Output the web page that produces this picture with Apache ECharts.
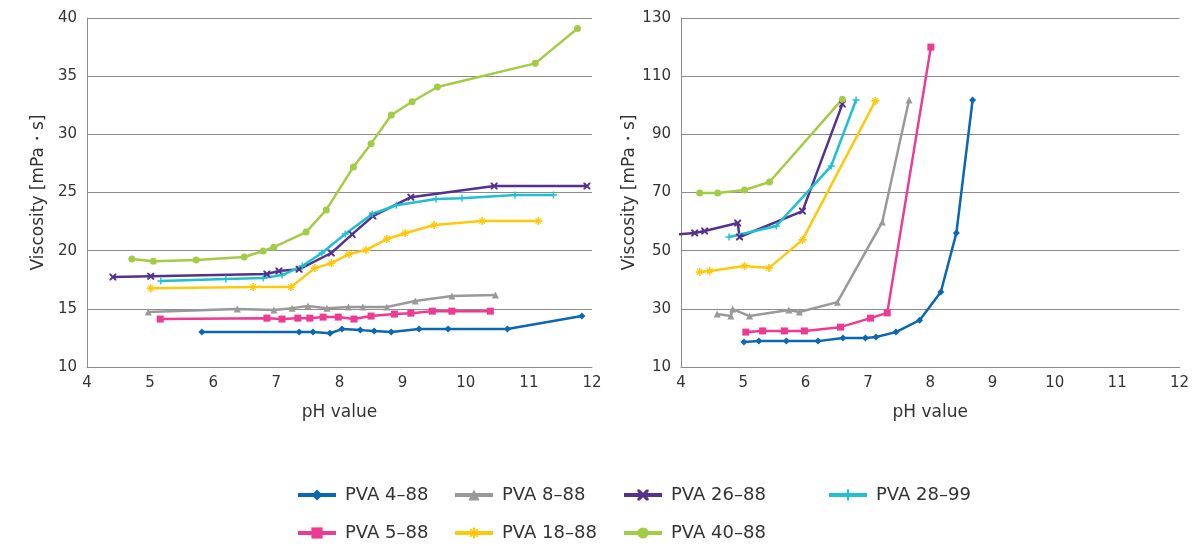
<!DOCTYPE html>
<html>
<head>
<meta charset="utf-8">
<script src="https://cdn.jsdelivr.net/npm/echarts@6/dist/echarts.min.js"></script>
<style>
  html, body { margin: 0; padding: 0; background: #fff; }
  #chart { width: 1192px; height: 546px; }
</style>
</head>
<body>
<div id="chart"></div>
<script>
// [pH, viscosity] pairs, left chart (low range)
var pva4_88_L = [[5.82,13.0],[7.36,13.0],[7.58,13.0],[7.85,12.9],[8.04,13.26],[8.33,13.17],[8.55,13.09],[8.82,13.0],[9.26,13.26],[9.72,13.26],[10.66,13.26],[11.84,14.38]];
var pva5_88_L = [[5.16,14.12],[6.85,14.2],[7.09,14.12],[7.34,14.2],[7.53,14.2],[7.74,14.29],[7.98,14.29],[8.23,14.12],[8.5,14.38],[8.87,14.55],[9.13,14.63],[9.47,14.8],[9.78,14.8],[10.39,14.8]];
var pva8_88_L = [[4.97,14.72],[6.38,14.98],[6.96,14.89],[7.25,15.06],[7.5,15.24],[7.8,15.06],[8.14,15.15],[8.37,15.15],[8.75,15.15],[9.2,15.67],[9.78,16.1],[10.47,16.18]];
var pva18_88_L = [[5.01,16.78],[6.63,16.87],[7.23,16.87],[7.61,18.5],[7.87,18.93],[8.15,19.7],[8.42,20.05],[8.75,21.0],[9.04,21.5],[9.5,22.2],[10.26,22.55],[11.15,22.55]];
var pva26_88_L = [[4.41,17.73],[5.01,17.8],[6.85,17.99],[7.04,18.25],[7.36,18.4],[7.87,19.8],[8.2,21.4],[8.53,22.97],[9.13,24.6],[10.45,25.55],[11.92,25.55]];
var pva28_99_L = [[5.17,17.39],[6.2,17.56],[6.79,17.64],[7.09,17.9],[7.41,18.68],[7.72,19.8],[8.09,21.43],[8.52,23.15],[8.9,23.9],[9.53,24.44],[9.94,24.5],[10.78,24.78],[11.39,24.78]];
var pva40_88_L = [[4.71,19.28],[5.05,19.1],[5.73,19.2],[6.49,19.45],[6.79,19.97],[6.96,20.3],[7.47,21.6],[7.79,23.5],[8.22,27.2],[8.5,29.2],[8.82,31.66],[9.15,32.8],[9.55,34.07],[11.1,36.1],[11.77,39.1]];

// right chart (high range)
var pva4_88_R = [[5.01,18.6],[5.25,18.9],[5.69,18.9],[6.2,18.9],[6.6,19.96],[6.96,19.96],[7.13,20.3],[7.45,22.0],[7.83,26.1],[8.17,35.8],[8.42,56.1],[8.68,101.8]];
var pva5_88_R = [[5.04,22.0],[5.31,22.4],[5.66,22.4],[5.98,22.4],[6.56,23.7],[7.04,26.8],[7.31,28.6],[8.01,120.0]];
var pva8_88_R = [[4.58,28.2],[4.8,27.5],[4.83,29.9],[5.1,27.5],[5.73,29.6],[5.9,28.9],[6.51,32.3],[7.23,59.85],[7.66,101.8]];
var pva18_88_R = [[4.3,42.66],[4.46,43.0],[5.02,44.7],[5.41,44.0],[5.95,53.7],[7.12,101.5]];
var pva26_88_R = [[3.94,55.6],[4.22,56.07],[4.38,56.75],[4.91,59.5],[4.94,54.7],[5.95,63.6],[6.59,100.4]];
var pva28_99_R = [[4.77,54.7],[5.53,58.5],[6.41,79.1],[6.81,101.8]];
var pva40_88_R = [[4.3,69.8],[4.59,69.8],[5.02,70.85],[5.42,73.6],[6.59,102.1]];

var phTicks = [4, 12, 1];
var viscLeft = [10, 40, 5];
var viscRight = [10, 130, 20];

var names = ['PVA 4–88', 'PVA 8–88', 'PVA 26–88', 'PVA 28–99', 'PVA 5–88', 'PVA 18–88', 'PVA 40–88'];
var colors = ['#0a67b4', '#999999', '#55318f', '#1ec0d2', '#ee3a93', '#fec90b', '#a3cc45'];

var xSym = 'path://M0,0 L2,0 L5,3 L8,0 L10,0 L10,2 L7,5 L10,8 L10,10 L8,10 L5,7 L2,10 L0,10 L0,8 L3,5 L0,2 Z';
var starSym = 'path://M4,0 H6 V3 L8,1 L9,2 L7,4 H10 V6 H7 L9,8 L8,9 L6,7 V10 H4 V7 L2,9 L1,8 L3,6 H0 V4 H3 L1,2 L2,1 L4,3 Z';
var plusSym = 'path://M4,0 H6 V4 H10 V6 H6 V10 H4 V6 H0 V4 H4 Z';
var symbols = ['diamond', 'triangle', xSym, plusSym, 'rect', starSym, 'circle'];
var sizes = [7, 7, 7, 7, 7, 8, 7];

var leftData = [pva4_88_L, pva8_88_L, pva26_88_L, pva28_99_L, pva5_88_L, pva18_88_L, pva40_88_L];
var rightData = [pva4_88_R, pva8_88_R, pva26_88_R, pva28_99_R, pva5_88_R, pva18_88_R, pva40_88_R];

var font = 'DejaVu Sans';
var txt = '#333';

function xAx(gi) {
    return {
        type: 'value', gridIndex: gi,
        min: phTicks[0], max: phTicks[1], interval: phTicks[2],
        name: 'pH value', nameLocation: 'middle', nameGap: 37,
        nameTextStyle: { fontFamily: font, fontSize: 17, color: txt },
        axisLine: { lineStyle: { color: '#8c8c8c', width: 1 } },
        axisTick: { show: false },
        splitLine: { show: false },
        axisLabel: { fontFamily: font, fontSize: 15, color: txt, margin: 9 }
    };
}
function yAx(gi, r) {
    return {
        type: 'value', gridIndex: gi,
        min: r[0], max: r[1], interval: r[2],
        name: 'Viscosity [mPa・s]', nameLocation: 'middle', nameGap: 40,
        nameTextStyle: { fontFamily: font, fontSize: 17, color: txt },
        axisLine: { show: true, lineStyle: { color: '#8c8c8c', width: 1 } },
        axisTick: { show: false },
        splitLine: { lineStyle: { color: '#8c8c8c', width: 1 } },
        axisLabel: { fontFamily: font, fontSize: 15, color: txt, margin: 10 }
    };
}

var series = [];
names.forEach(function(n, i) {
    [leftData[i], rightData[i]].forEach(function(d, gi) {
        series.push({
            name: n, type: 'line',
            xAxisIndex: gi, yAxisIndex: gi,
            data: d,
            color: colors[i],
            symbol: symbols[i], symbolSize: sizes[i],
            showSymbol: true,
            lineStyle: { width: 2.5 },
            itemStyle: { color: colors[i] },
            animation: false
        });
    });
});

function legendCol(left, data) {
    return {
        orient: 'vertical', left: left, top: 486, height: 90,
        data: data,
        itemWidth: 38, itemHeight: 14, itemGap: 20,
        padding: 0,
        lineStyle: { width: 4 },
        textStyle: { fontFamily: font, fontSize: 18, color: txt, padding: [0, 0, 0, 4] }
    };
}

var chart = echarts.init(document.getElementById('chart'));
chart.setOption({
    backgroundColor: '#fff',
    grid: [
        { left: 87, right: 600, top: 18, bottom: 179 },
        { left: 681, right: 10, top: 18, bottom: 179 }
    ],
    xAxis: [xAx(0), xAx(1)],
    yAxis: [yAx(0, viscLeft), yAx(1, viscRight)],
    legend: [
        legendCol(296, [names[0], names[4]]),
        legendCol(453, [names[1], names[5]]),
        legendCol(622, [names[2], names[6]]),
        legendCol(827, [names[3]])
    ],
    series: series
});
</script>
</body>
</html>
